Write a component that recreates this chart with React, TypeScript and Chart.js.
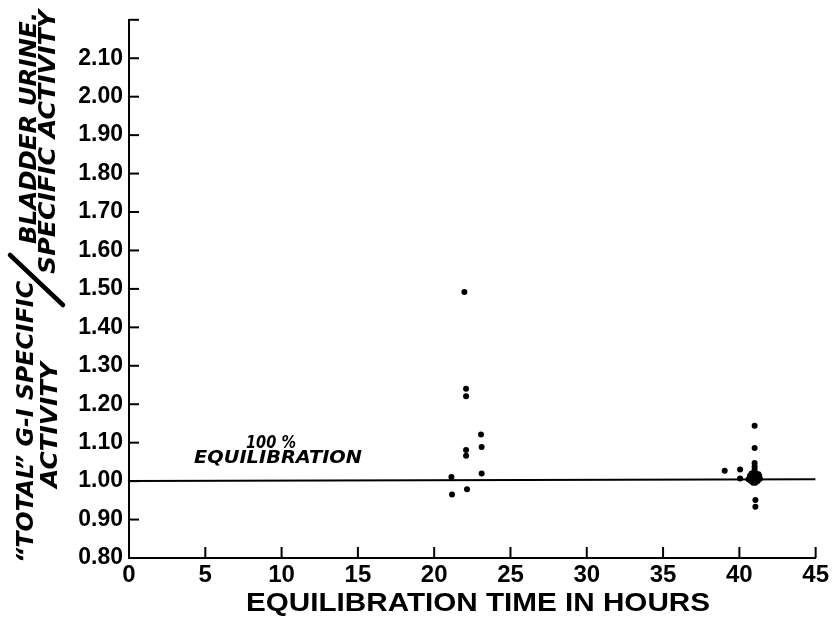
import React, { useEffect, useRef } from "react";
import { Chart, registerables } from "chart.js";

Chart.register(...registerables);

// Equilibration time (hours) and specific-activity ratio of each sample
const pointHours = [
  21.98, 22.09, 22.09, 23.07, 23.11, 22.09, 22.09, 21.13, 23.11, 22.15, 21.17,
  41.0, 41.0, 41.0, 39.04, 40.05, 40.05, 41.05, 41.05,
  40.6, 40.75, 40.9, 41.05, 41.2, 41.35, 40.7, 40.85, 41.0, 41.15, 41.3,
  40.8, 40.95, 41.1, 41.25, 40.9, 41.05, 41.0, 41.0, 41.0,
];
const pointRatios = [
  1.492, 1.24, 1.221, 1.121, 1.089, 1.081, 1.066, 1.011, 1.02, 0.979, 0.965,
  1.144, 1.086, 1.047, 1.027, 1.03, 1.007, 0.951, 0.933,
  1.005, 1.0, 0.996, 0.996, 1.0, 1.006, 1.014, 1.012, 1.01, 1.012, 1.014,
  1.02, 1.022, 1.02, 1.018, 1.004, 1.004, 1.03, 1.038, 1.016,
];

// 100 % equilibration reference line
const lineHours = [0, 45];
const lineRatios = [1.0, 1.005];

const xMin = 0;
const xMax = 45;
const xStep = 5;
const yMin = 0.8;
const yMax = 2.2;
const yStep = 0.1;

const xTitle = "EQUILIBRATION TIME IN HOURS";
const yTitleTopLeft = "\u201CTOTAL\u201D G-I SPECIFIC";
const yTitleBottomLeft = "ACTIVITY";
const yTitleTopRight = "BLADDER URINE.";
const yTitleBottomRight = "SPECIFIC ACTIVITY";
const lineLabel1 = "100 %";
const lineLabel2 = "EQUILIBRATION";

function drawFit(
  ctx: CanvasRenderingContext2D,
  text: string,
  cx: number,
  cy: number,
  targetW: number,
  font: string,
  angle: number
) {
  ctx.save();
  ctx.font = font;
  ctx.fillStyle = "#000";
  ctx.translate(cx, cy);
  ctx.rotate(angle);
  const w = ctx.measureText(text).width;
  ctx.scale(targetW / w, 1);
  ctx.textAlign = "center";
  ctx.textBaseline = "middle";
  ctx.fillText(text, 0, 0);
  ctx.restore();
}

const decorPlugin = {
  id: "decor",
  afterDraw(chart: any) {
    const ctx: CanvasRenderingContext2D = chart.ctx;
    const xs = chart.scales.x;
    const ys = chart.scales.y;
    const area = chart.chartArea;
    ctx.save();
    ctx.strokeStyle = "#000";
    ctx.lineWidth = 2;
    // inward tick marks
    ys.ticks.forEach((t: any) => {
      const py = ys.getPixelForValue(t.value);
      ctx.beginPath();
      ctx.moveTo(area.left, py);
      ctx.lineTo(area.left + 10, py);
      ctx.stroke();
    });
    xs.ticks.forEach((t: any) => {
      const px = xs.getPixelForValue(t.value);
      ctx.beginPath();
      ctx.moveTo(px, area.bottom);
      ctx.lineTo(px, area.bottom - 11);
      ctx.stroke();
    });
    // slash of the y title fraction
    ctx.lineWidth = 4.5;
    ctx.lineCap = "round";
    ctx.beginPath();
    ctx.moveTo(10, 255);
    ctx.lineTo(63, 305);
    ctx.stroke();
    ctx.restore();

    const italic = "italic bold 23px 'DejaVu Sans'";
    const up = -Math.PI / 2;
    drawFit(ctx, yTitleTopLeft, 27, 422, 282, italic, up);
    drawFit(ctx, yTitleBottomLeft, 51, 425, 126, italic, up);
    drawFit(ctx, yTitleTopRight, 30, 128, 232, italic, up);
    drawFit(ctx, yTitleBottomRight, 49, 142, 264, italic, up);

    drawFit(ctx, xTitle, 478, 604, 464, "bold 25px 'Liberation Sans'", 0);

    const small = "italic bold 17px 'DejaVu Sans'";
    drawFit(ctx, lineLabel1, 271, 444, 50, small, 0);
    drawFit(ctx, lineLabel2, 278, 459, 168, small, 0);
  },
};

export default function App() {
  const ref = useRef<HTMLCanvasElement>(null);
  useEffect(() => {
    if (!ref.current) return;
    const chart = new Chart(ref.current, {
      type: "scatter",
      data: {
        datasets: [
          {
            label: "samples",
            data: pointHours.map((h, i) => ({ x: h, y: pointRatios[i] })),
            backgroundColor: "#000",
            borderColor: "#000",
            pointRadius: 3,
            pointBorderWidth: 0,
            showLine: false,
          },
          {
            label: "equilibration",
            data: lineHours.map((h, i) => ({ x: h, y: lineRatios[i] })),
            borderColor: "#000",
            borderWidth: 2,
            pointRadius: 0,
            showLine: true,
          },
        ],
      },
      plugins: [decorPlugin],
      options: {
        animation: false,
        responsive: false,
        layout: {
          autoPadding: false,
          padding: { top: 9, right: 15, left: 0, bottom: 0 },
        },
        plugins: {
          legend: { display: false },
          tooltip: { enabled: false },
        },
        scales: {
          x: {
            type: "linear",
            min: xMin,
            max: xMax,
            afterFit: (s: any) => {
              s.height = 61;
            },
            ticks: {
              stepSize: xStep,
              color: "#000",
              padding: 3,
              font: { family: "'Liberation Sans'", weight: "bold", size: 24 },
            },
            grid: { display: false, drawTicks: false },
            border: { display: true, color: "#000", width: 2 },
          },
          y: {
            type: "linear",
            min: yMin,
            max: yMax,
            afterFit: (s: any) => {
              s.width = 129;
            },
            ticks: {
              stepSize: yStep,
              color: "#000",
              padding: 6,
              font: { family: "'Liberation Sans'", weight: "bold", size: 23 },
              callback: (v: any) => (Number(v) > 2.15 ? "" : Number(v).toFixed(2)),
            },
            grid: { display: false, drawTicks: false },
            border: { display: true, color: "#000", width: 2 },
          },
        },
      },
    });
    return () => chart.destroy();
  }, []);
  return (
    <div style={{ position: "fixed", left: 0, top: 0, width: 832, height: 619, background: "#fff" }}>
      <canvas ref={ref} width={832} height={619} />
    </div>
  );
}
